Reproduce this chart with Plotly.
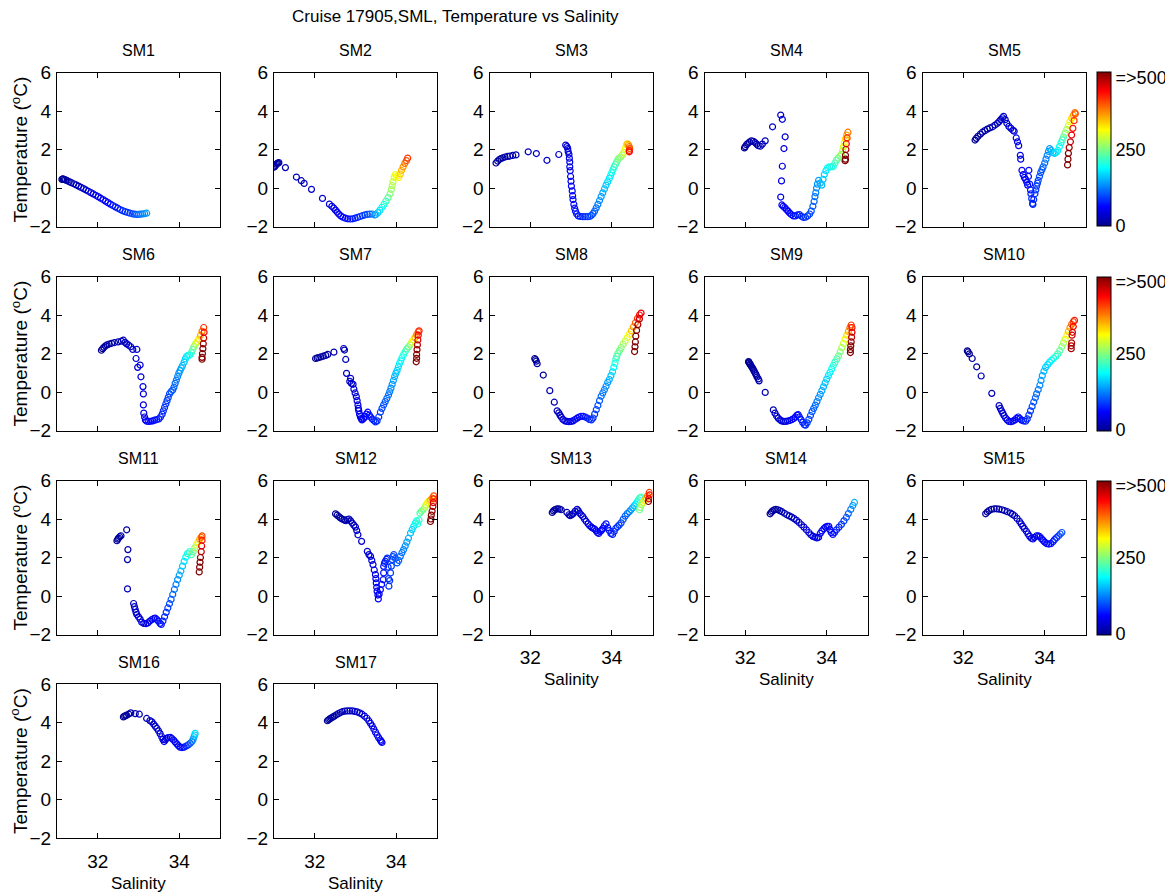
import plotly.graph_objects as go

# the page body adds an 8 px margin, so the figure is drawn 8 px in from the corner
OFF = 8
W, H = 1173 - OFF, 896 - OFF
FONT = "Liberation Sans, Arial, Helvetica, sans-serif"

TITLE = "Cruise 17905,SML, Temperature vs Salinity"
STATIONS = ["SM1", "SM2", "SM3", "SM4", "SM5", "SM6", "SM7", "SM8", "SM9",
            "SM10", "SM11", "SM12", "SM13", "SM14", "SM15", "SM16", "SM17"]
SAL_TICKS = [32, 34]
TEMP_TICKS = [-2, 0, 2, 4, 6]
DEPTH_TICKS = [2, 250, 482]
DEPTH_LABELS = ["0", "250", "=>500"]

# (salinity, temperature degC, depth m)
SM1 = [(31.12, 0.45, 2), (31.14, 0.47, 4), (31.16, 0.46, 6), (31.18, 0.44, 8), (31.21, 0.42, 10),
       (31.25, 0.38, 12), (31.3, 0.33, 15), (31.35, 0.28, 18), (31.41, 0.22, 21), (31.47, 0.16, 24),
       (31.53, 0.1, 27), (31.59, 0.03, 30), (31.65, -0.03, 33), (31.71, -0.1, 36), (31.77, -0.17, 39),
       (31.83, -0.24, 42), (31.89, -0.31, 45), (31.95, -0.38, 48), (32.01, -0.45, 51), (32.07, -0.53, 54),
       (32.13, -0.6, 57), (32.19, -0.68, 60), (32.25, -0.76, 63), (32.31, -0.84, 66), (32.37, -0.91, 69),
       (32.43, -0.98, 72), (32.49, -1.05, 75), (32.55, -1.12, 78), (32.61, -1.18, 81), (32.67, -1.23, 84),
       (32.73, -1.27, 88), (32.79, -1.31, 92), (32.85, -1.34, 97), (32.9, -1.36, 102), (32.95, -1.37, 108),
       (33.0, -1.37, 114), (33.05, -1.36, 120), (33.1, -1.35, 126), (33.15, -1.33, 132), (33.2, -1.31, 140)]
SM2 = [(31.0, 1.08, 2), (31.02, 1.12, 4), (31.04, 1.18, 6), (31.06, 1.24, 8), (31.08, 1.28, 10),
       (31.1, 1.3, 12), (31.12, 1.32, 14), (31.28, 1.06, 18), (31.55, 0.57, 22), (31.67, 0.38, 25),
       (31.74, 0.24, 28), (31.92, -0.07, 32), (32.19, -0.54, 36), (32.36, -0.84, 40), (32.42, -0.95, 43),
       (32.47, -1.05, 46), (32.51, -1.15, 49), (32.55, -1.25, 52), (32.59, -1.35, 55), (32.64, -1.45, 58),
       (32.69, -1.52, 61), (32.75, -1.57, 64), (32.81, -1.6, 67), (32.87, -1.61, 70), (32.93, -1.6, 73),
       (32.99, -1.57, 76), (33.05, -1.53, 80), (33.11, -1.48, 84), (33.17, -1.44, 88), (33.23, -1.4, 93),
       (33.29, -1.37, 98), (33.35, -1.36, 105), (33.41, -1.35, 115), (33.47, -1.4, 130), (33.5, -1.38, 145),
       (33.55, -1.28, 160), (33.6, -1.15, 175), (33.65, -1.0, 190), (33.7, -0.85, 205), (33.75, -0.68, 220),
       (33.8, -0.5, 235), (33.85, -0.3, 250), (33.88, -0.08, 262), (33.9, 0.12, 272), (33.92, 0.32, 282),
       (33.95, 0.55, 292), (33.98, 0.7, 300), (34.02, 0.62, 310), (34.06, 0.55, 320), (34.1, 0.72, 335),
       (34.13, 0.92, 350), (34.17, 1.1, 365), (34.21, 1.28, 380), (34.25, 1.42, 395), (34.28, 1.55, 410)]
SM3 = [(31.16, 1.3, 2), (31.2, 1.4, 4), (31.24, 1.48, 6), (31.28, 1.53, 8), (31.33, 1.57, 10),
       (31.38, 1.61, 12), (31.44, 1.64, 14), (31.5, 1.66, 16), (31.57, 1.69, 18), (31.65, 1.72, 20),
       (31.95, 1.88, 24), (32.15, 1.79, 27), (32.41, 1.44, 30), (32.7, 1.74, 33), (32.87, 2.23, 36),
       (32.9, 2.15, 38), (32.92, 2.05, 40), (32.93, 1.9, 42), (32.95, 1.75, 44), (32.96, 1.55, 46),
       (32.97, 1.35, 48), (32.97, 1.1, 50), (32.98, 0.9, 52), (32.99, 0.6, 54), (33.0, 0.35, 56),
       (33.01, 0.1, 58), (33.03, -0.15, 60), (33.04, -0.4, 62), (33.05, -0.6, 64), (33.07, -0.85, 66),
       (33.09, -1.05, 68), (33.11, -1.2, 70), (33.14, -1.35, 72), (33.18, -1.45, 74), (33.23, -1.48, 77),
       (33.29, -1.49, 80), (33.35, -1.49, 84), (33.41, -1.49, 88), (33.46, -1.48, 92), (33.5, -1.42, 97),
       (33.54, -1.33, 103), (33.58, -1.2, 110), (33.62, -1.03, 117), (33.66, -0.85, 124), (33.7, -0.65, 131),
       (33.74, -0.45, 138), (33.78, -0.25, 145), (33.82, -0.05, 152), (33.86, 0.15, 160), (33.9, 0.32, 168),
       (33.94, 0.5, 176), (33.97, 0.65, 184), (34.0, 0.8, 192), (34.03, 0.95, 200), (34.06, 1.1, 210),
       (34.09, 1.22, 220), (34.12, 1.35, 230), (34.15, 1.48, 240), (34.18, 1.55, 250), (34.22, 1.62, 260),
       (34.26, 1.72, 275), (34.3, 1.85, 290), (34.33, 2.05, 305), (34.36, 2.25, 320), (34.38, 2.3, 340),
       (34.41, 2.25, 360), (34.43, 2.15, 380), (34.44, 2.05, 400), (34.43, 1.95, 420), (34.43, 1.88, 440)]
SM4 = [(31.98, 2.08, 3), (32.0, 2.15, 5), (32.03, 2.25, 7), (32.06, 2.31, 9), (32.1, 2.38, 11),
       (32.15, 2.45, 13), (32.2, 2.42, 15), (32.24, 2.36, 17), (32.28, 2.28, 19), (32.32, 2.2, 21),
       (32.37, 2.17, 23), (32.42, 2.28, 25), (32.49, 2.45, 27), (32.67, 3.18, 30), (32.87, 3.79, 33),
       (32.91, 3.57, 36), (32.98, 2.66, 39), (32.95, 2.05, 42), (32.91, 1.13, 45), (32.89, 0.37, 48),
       (32.87, -0.47, 51), (32.9, -0.88, 54), (32.93, -0.95, 56), (32.97, -1.02, 58), (33.01, -1.12, 60),
       (33.05, -1.2, 62), (33.09, -1.3, 64), (33.13, -1.38, 66), (33.18, -1.45, 68), (33.23, -1.45, 70),
       (33.28, -1.4, 73), (33.33, -1.38, 76), (33.38, -1.47, 79), (33.43, -1.53, 82), (33.48, -1.52, 86),
       (33.53, -1.45, 90), (33.58, -1.35, 95), (33.62, -1.2, 100), (33.66, -0.95, 106), (33.69, -0.7, 112),
       (33.71, -0.45, 118), (33.73, -0.25, 124), (33.75, 0.0, 130), (33.77, 0.2, 136), (33.8, 0.4, 142),
       (33.84, 0.25, 148), (33.88, 0.15, 154), (33.91, 0.45, 160), (33.94, 0.7, 166), (33.98, 0.9, 174),
       (34.02, 1.05, 182), (34.07, 1.1, 190), (34.12, 1.1, 198), (34.16, 1.12, 206), (34.2, 1.3, 216),
       (34.24, 1.45, 226), (34.28, 1.55, 238), (34.32, 1.65, 250), (34.36, 1.75, 262), (34.39, 1.95, 276),
       (34.41, 2.15, 292), (34.43, 2.35, 310), (34.46, 2.55, 330), (34.49, 2.75, 355), (34.52, 2.9, 380),
       (34.5, 2.6, 410), (34.48, 2.3, 440), (34.47, 2.0, 470), (34.46, 1.7, 495), (34.46, 1.5, 510),
       (34.45, 1.42, 520)]
SM5 = [(32.29, 2.49, 3), (32.32, 2.58, 5), (32.36, 2.68, 7), (32.42, 2.8, 9), (32.47, 2.9, 11),
       (32.53, 2.98, 13), (32.59, 3.06, 15), (32.65, 3.12, 17), (32.72, 3.18, 19), (32.78, 3.27, 21),
       (32.84, 3.36, 23), (32.88, 3.45, 25), (32.92, 3.55, 27), (32.96, 3.65, 29), (32.99, 3.72, 31),
       (33.03, 3.55, 33), (33.07, 3.36, 35), (33.12, 3.2, 37), (33.17, 3.1, 39), (33.22, 3.0, 41),
       (33.25, 2.95, 43), (33.3, 2.6, 45), (33.33, 2.4, 47), (33.36, 2.2, 49), (33.4, 1.7, 51),
       (33.41, 1.5, 53), (33.44, 0.92, 55), (33.47, 0.7, 57), (33.5, 0.55, 59), (33.53, 0.45, 61),
       (33.56, 0.3, 63), (33.58, 0.15, 65), (33.6, 0.6, 67), (33.61, 0.92, 69), (33.63, 0.2, 71),
       (33.65, -0.1, 73), (33.66, -0.3, 75), (33.68, -0.55, 77), (33.7, -0.8, 79), (33.71, -0.85, 81),
       (33.73, -0.6, 83), (33.76, -0.3, 85), (33.78, -0.1, 87), (33.8, 0.1, 89), (33.82, 0.25, 92),
       (33.84, 0.4, 95), (33.87, 0.6, 98), (33.9, 0.8, 101), (33.93, 0.95, 105), (33.96, 1.1, 110),
       (34.0, 1.3, 116), (34.03, 1.5, 122), (34.06, 1.7, 128), (34.09, 1.9, 134), (34.12, 2.05, 140),
       (34.16, 1.95, 148), (34.2, 1.85, 156), (34.24, 1.8, 164), (34.28, 1.85, 172), (34.32, 1.95, 180),
       (34.36, 2.15, 190), (34.4, 2.35, 200), (34.43, 2.5, 215), (34.46, 2.65, 230), (34.5, 2.85, 250),
       (34.54, 3.05, 270), (34.58, 3.25, 290), (34.62, 3.45, 310), (34.66, 3.62, 330), (34.7, 3.78, 355),
       (34.74, 3.92, 380), (34.75, 3.85, 400), (34.72, 3.5, 415), (34.69, 3.1, 430), (34.66, 2.75, 445),
       (34.63, 2.4, 460), (34.6, 2.1, 480), (34.58, 1.8, 500), (34.57, 1.5, 510), (34.56, 1.2, 520)]
SM6 = [(32.09, 2.17, 3), (32.12, 2.25, 5), (32.15, 2.32, 7), (32.19, 2.4, 9), (32.23, 2.45, 11),
       (32.28, 2.49, 13), (32.34, 2.53, 15), (32.41, 2.57, 17), (32.5, 2.6, 19), (32.58, 2.64, 21),
       (32.63, 2.69, 23), (32.67, 2.58, 25), (32.71, 2.5, 27), (32.76, 2.43, 29), (32.81, 2.35, 31),
       (32.86, 2.21, 33), (32.96, 2.21, 35), (32.94, 1.74, 37), (32.98, 1.28, 39), (33.04, 1.4, 41),
       (33.06, 0.79, 43), (33.11, 0.28, 45), (33.12, -0.1, 47), (33.12, -0.67, 49), (33.13, -1.1, 51),
       (33.15, -1.3, 53), (33.17, -1.45, 55), (33.2, -1.52, 57), (33.25, -1.53, 59), (33.3, -1.52, 62),
       (33.35, -1.5, 65), (33.4, -1.46, 68), (33.45, -1.43, 71), (33.5, -1.4, 74), (33.54, -1.3, 77),
       (33.58, -1.15, 80), (33.61, -0.98, 83), (33.64, -0.8, 86), (33.67, -0.62, 89), (33.7, -0.45, 92),
       (33.73, -0.28, 95), (33.76, -0.1, 98), (33.8, 0.02, 102), (33.84, 0.1, 106), (33.87, 0.25, 110),
       (33.9, 0.45, 115), (33.93, 0.62, 120), (33.96, 0.8, 126), (33.99, 0.98, 132), (34.02, 1.12, 138),
       (34.05, 1.25, 145), (34.08, 1.38, 152), (34.12, 1.55, 160), (34.15, 1.72, 168), (34.18, 1.85, 176),
       (34.22, 1.9, 185), (34.26, 1.92, 195), (34.3, 2.05, 210), (34.33, 2.2, 230), (34.36, 2.35, 250),
       (34.4, 2.5, 275), (34.44, 2.62, 300), (34.48, 2.75, 325), (34.52, 2.95, 350), (34.56, 3.15, 380),
       (34.6, 3.35, 410), (34.61, 3.1, 430), (34.6, 2.8, 455), (34.59, 2.5, 480), (34.58, 2.25, 500),
       (34.57, 2.0, 510), (34.56, 1.8, 520), (34.56, 1.7, 530)]
SM7 = [(32.02, 1.74, 3), (32.06, 1.77, 5), (32.1, 1.79, 7), (32.15, 1.82, 9), (32.21, 1.86, 11),
       (32.27, 1.9, 13), (32.32, 1.95, 15), (32.47, 2.07, 18), (32.71, 2.26, 21), (32.73, 2.18, 23),
       (32.76, 1.69, 25), (32.78, 0.97, 27), (32.86, 0.55, 29), (32.88, 0.71, 31), (32.9, 0.45, 33),
       (32.94, 0.4, 35), (32.96, 0.15, 37), (32.99, -0.05, 39), (33.02, -0.24, 41), (33.04, -0.45, 43),
       (33.06, -0.67, 45), (33.07, -0.85, 47), (33.08, -0.97, 49), (33.1, -1.15, 51), (33.12, -1.28, 53),
       (33.14, -1.38, 55), (33.16, -1.45, 57), (33.2, -1.38, 59), (33.24, -1.28, 61), (33.27, -1.15, 63),
       (33.3, -1.05, 65), (33.34, -1.2, 68), (33.37, -1.3, 71), (33.41, -1.4, 74), (33.45, -1.48, 77),
       (33.49, -1.55, 80), (33.53, -1.5, 84), (33.57, -1.3, 88), (33.61, -1.05, 92), (33.65, -0.85, 97),
       (33.69, -0.67, 102), (33.73, -0.5, 107), (33.77, -0.33, 112), (33.81, -0.15, 118), (33.84, 0.02, 124),
       (33.87, 0.2, 130), (33.9, 0.4, 136), (33.93, 0.6, 142), (33.96, 0.8, 149), (33.99, 0.97, 156),
       (34.02, 1.12, 163), (34.05, 1.3, 170), (34.08, 1.48, 178), (34.11, 1.62, 186), (34.14, 1.78, 194),
       (34.18, 1.95, 203), (34.22, 2.1, 213), (34.26, 2.24, 225), (34.3, 2.34, 240), (34.34, 2.45, 260),
       (34.38, 2.58, 285), (34.42, 2.7, 315), (34.46, 2.82, 345), (34.5, 2.98, 375), (34.54, 3.12, 400),
       (34.56, 3.18, 420), (34.54, 2.95, 440), (34.53, 2.7, 455), (34.52, 2.45, 470), (34.51, 2.2, 485),
       (34.5, 1.95, 500), (34.5, 1.75, 510), (34.49, 1.57, 520)]
SM8 = [(32.11, 1.74, 3), (32.13, 1.68, 5), (32.15, 1.6, 7), (32.17, 1.47, 9), (32.32, 0.88, 13),
       (32.48, 0.07, 17), (32.59, -0.53, 21), (32.66, -0.98, 25), (32.7, -1.08, 28), (32.73, -1.2, 31),
       (32.76, -1.3, 34), (32.8, -1.42, 37), (32.85, -1.5, 40), (32.9, -1.53, 43), (32.95, -1.54, 46),
       (33.0, -1.53, 49), (33.05, -1.5, 52), (33.1, -1.43, 55), (33.15, -1.36, 58), (33.2, -1.3, 61),
       (33.25, -1.26, 64), (33.3, -1.27, 67), (33.35, -1.3, 70), (33.4, -1.35, 74), (33.45, -1.42, 78),
       (33.5, -1.45, 82), (33.54, -1.35, 86), (33.58, -1.15, 91), (33.62, -0.92, 96), (33.66, -0.7, 101),
       (33.7, -0.45, 107), (33.74, -0.22, 113), (33.78, -0.05, 119), (33.82, 0.12, 126), (33.86, 0.3, 133),
       (33.9, 0.5, 140), (33.94, 0.65, 148), (33.98, 0.85, 158), (34.02, 1.05, 170), (34.05, 1.28, 185),
       (34.08, 1.5, 200), (34.1, 1.7, 212), (34.12, 1.85, 222), (34.15, 2.0, 232), (34.19, 2.15, 242),
       (34.23, 2.3, 252), (34.28, 2.48, 264), (34.33, 2.65, 278), (34.38, 2.83, 295), (34.43, 3.0, 315),
       (34.48, 3.18, 340), (34.53, 3.38, 365), (34.58, 3.6, 390), (34.63, 3.82, 415), (34.68, 4.0, 435),
       (34.72, 4.1, 450), (34.68, 3.8, 465), (34.64, 3.5, 480), (34.61, 3.2, 495), (34.59, 2.9, 505),
       (34.58, 2.6, 515), (34.57, 2.35, 520), (34.56, 2.1, 530)]
SM9 = [(32.08, 1.58, 2), (32.09, 1.55, 3), (32.1, 1.5, 4), (32.12, 1.45, 5), (32.13, 1.4, 6),
       (32.15, 1.34, 7), (32.17, 1.27, 8), (32.19, 1.2, 9), (32.21, 1.12, 10), (32.23, 1.04, 11),
       (32.25, 0.96, 12), (32.27, 0.88, 13), (32.29, 0.78, 14), (32.32, 0.68, 15), (32.34, 0.58, 16),
       (32.49, -0.02, 20), (32.69, -0.93, 25), (32.73, -1.1, 28), (32.77, -1.25, 31), (32.81, -1.36, 34),
       (32.85, -1.44, 37), (32.89, -1.5, 40), (32.94, -1.53, 43), (32.99, -1.53, 46), (33.04, -1.51, 49),
       (33.09, -1.48, 52), (33.14, -1.44, 55), (33.19, -1.38, 58), (33.23, -1.3, 61), (33.27, -1.2, 64),
       (33.3, -1.18, 67), (33.33, -1.3, 70), (33.37, -1.43, 73), (33.41, -1.58, 76), (33.45, -1.7, 80),
       (33.48, -1.72, 84), (33.52, -1.6, 88), (33.56, -1.42, 93), (33.6, -1.22, 98), (33.64, -1.02, 104),
       (33.68, -0.85, 110), (33.72, -0.68, 116), (33.76, -0.5, 122), (33.8, -0.3, 129), (33.84, -0.12, 136),
       (33.88, 0.07, 143), (33.92, 0.27, 150), (33.96, 0.47, 158), (34.0, 0.67, 166), (34.04, 0.85, 174),
       (34.08, 1.02, 183), (34.12, 1.2, 192), (34.16, 1.38, 202), (34.2, 1.55, 213), (34.25, 1.72, 225),
       (34.29, 1.88, 238), (34.33, 2.08, 252), (34.37, 2.3, 268), (34.41, 2.52, 286), (34.45, 2.75, 306),
       (34.49, 2.95, 330), (34.53, 3.15, 355), (34.57, 3.35, 385), (34.6, 3.48, 410), (34.62, 3.35, 430),
       (34.62, 3.1, 450), (34.61, 2.85, 470), (34.6, 2.6, 490), (34.59, 2.4, 505), (34.58, 2.2, 515),
       (34.58, 2.05, 525)]
SM10 = [(32.1, 2.14, 3), (32.12, 2.08, 5), (32.15, 1.98, 7), (32.22, 1.74, 10), (32.33, 1.31, 14),
        (32.44, 0.83, 18), (32.7, -0.07, 23), (32.88, -0.71, 28), (32.91, -0.85, 31), (32.94, -0.98, 34),
        (32.97, -1.1, 37), (33.0, -1.22, 40), (33.04, -1.35, 43), (33.08, -1.45, 46), (33.12, -1.53, 49),
        (33.17, -1.54, 52), (33.22, -1.51, 55), (33.27, -1.45, 58), (33.31, -1.36, 61), (33.35, -1.3, 64),
        (33.39, -1.38, 67), (33.43, -1.46, 70), (33.48, -1.5, 74), (33.53, -1.52, 78), (33.57, -1.4, 82),
        (33.61, -1.2, 86), (33.65, -0.98, 91), (33.69, -0.75, 96), (33.73, -0.52, 102), (33.77, -0.3, 108),
        (33.8, -0.1, 114), (33.84, 0.12, 121), (33.88, 0.35, 128), (33.91, 0.6, 136), (33.94, 0.85, 144),
        (33.98, 1.08, 152), (34.02, 1.28, 160), (34.07, 1.42, 168), (34.12, 1.55, 176), (34.17, 1.66, 185),
        (34.22, 1.75, 195), (34.27, 1.85, 205), (34.32, 1.98, 218), (34.37, 2.15, 232), (34.42, 2.35, 250),
        (34.46, 2.55, 270), (34.5, 2.75, 292), (34.54, 2.95, 315), (34.58, 3.15, 340), (34.62, 3.35, 365),
        (34.66, 3.52, 390), (34.7, 3.65, 410), (34.73, 3.72, 425), (34.7, 3.4, 440), (34.68, 3.1, 455),
        (34.67, 2.95, 462), (34.66, 2.55, 470), (34.65, 2.4, 478), (34.65, 2.25, 485)]
SM11 = [(32.47, 2.87, 3), (32.49, 2.95, 5), (32.51, 3.01, 7), (32.54, 3.08, 9), (32.57, 3.13, 11),
        (32.71, 3.44, 14), (32.74, 2.41, 17), (32.73, 1.89, 20), (32.73, 0.37, 23), (32.88, -0.39, 26),
        (32.9, -0.55, 28), (32.92, -0.7, 30), (32.94, -0.85, 32), (32.96, -0.96, 34), (33.0, -1.08, 36),
        (33.04, -1.2, 38), (33.08, -1.36, 40), (33.13, -1.42, 43), (33.18, -1.44, 46), (33.23, -1.4, 49),
        (33.28, -1.3, 52), (33.33, -1.22, 55), (33.37, -1.18, 58), (33.41, -1.15, 61), (33.45, -1.22, 64),
        (33.49, -1.31, 67), (33.53, -1.42, 70), (33.56, -1.48, 73), (33.6, -1.3, 77), (33.64, -1.08, 81),
        (33.68, -0.85, 86), (33.72, -0.62, 91), (33.76, -0.4, 97), (33.8, -0.18, 103), (33.84, 0.08, 110),
        (33.88, 0.34, 117), (33.92, 0.6, 125), (33.96, 0.85, 133), (34.0, 1.08, 142), (34.04, 1.3, 151),
        (34.08, 1.55, 161), (34.12, 1.8, 172), (34.16, 2.02, 184), (34.2, 2.2, 197), (34.25, 2.3, 212),
        (34.3, 2.15, 228), (34.34, 2.3, 245), (34.38, 2.5, 265), (34.42, 2.65, 290), (34.46, 2.8, 320),
        (34.5, 2.95, 350), (34.54, 3.05, 380), (34.56, 3.12, 405), (34.56, 2.9, 425), (34.55, 2.6, 445),
        (34.54, 2.3, 465), (34.52, 2.0, 485), (34.51, 1.75, 500), (34.5, 1.5, 515), (34.49, 1.25, 525)]
SM12 = [(32.51, 4.27, 3), (32.55, 4.2, 5), (32.59, 4.13, 7), (32.63, 4.06, 9), (32.67, 4.0, 11),
        (32.72, 3.95, 13), (32.76, 3.91, 15), (32.8, 3.97, 17), (32.84, 4.0, 19), (32.88, 3.9, 21),
        (32.92, 3.79, 23), (32.96, 3.68, 25), (33.0, 3.58, 27), (33.03, 3.4, 29), (33.06, 3.18, 31),
        (33.15, 2.84, 34), (33.29, 2.32, 37), (33.33, 2.15, 39), (33.37, 2.06, 41), (33.4, 1.85, 43),
        (33.43, 1.63, 45), (33.46, 1.35, 47), (33.49, 1.11, 49), (33.5, 0.9, 51), (33.51, 0.68, 53),
        (33.52, 0.45, 55), (33.53, 0.25, 57), (33.55, 0.05, 59), (33.56, -0.15, 61), (33.58, 0.1, 63),
        (33.61, 0.33, 65), (33.64, 0.6, 67), (33.68, 0.85, 69), (33.69, 1.2, 71), (33.69, 1.54, 73),
        (33.71, 1.7, 75), (33.73, 1.8, 77), (33.76, 1.9, 79), (33.78, 1.97, 81), (33.8, 1.5, 83),
        (33.81, 0.9, 85), (33.82, 0.51, 87), (33.84, 0.8, 89), (33.86, 1.2, 91), (33.88, 1.55, 93),
        (33.9, 1.89, 95), (33.92, 2.05, 97), (33.94, 2.15, 99), (33.98, 1.95, 102), (34.02, 1.72, 105),
        (34.06, 1.85, 109), (34.1, 2.06, 114), (34.14, 2.25, 119), (34.18, 2.41, 125), (34.22, 2.6, 132),
        (34.26, 2.8, 140), (34.3, 3.0, 148), (34.35, 3.27, 157), (34.39, 3.45, 166), (34.43, 3.62, 175),
        (34.47, 3.79, 185), (34.5, 3.9, 195), (34.53, 3.75, 205), (34.56, 3.95, 215), (34.58, 4.31, 225),
        (34.62, 4.4, 238), (34.66, 4.48, 252), (34.7, 4.6, 268), (34.73, 4.72, 285), (34.76, 4.83, 305),
        (34.8, 4.92, 325), (34.84, 5.0, 350), (34.88, 5.08, 375), (34.92, 5.2, 400), (34.92, 5.05, 425),
        (34.91, 4.85, 450), (34.9, 4.65, 470), (34.88, 4.4, 490), (34.86, 4.2, 505), (34.85, 4.0, 515),
        (34.84, 3.87, 525)]
SM13 = [(32.54, 4.34, 3), (32.57, 4.42, 5), (32.6, 4.48, 7), (32.64, 4.52, 9), (32.68, 4.53, 11),
        (32.72, 4.52, 13), (32.76, 4.48, 15), (32.9, 4.34, 18), (32.95, 4.22, 20), (32.98, 4.17, 22),
        (33.02, 4.22, 24), (33.05, 4.27, 26), (33.1, 4.4, 28), (33.15, 4.5, 30), (33.18, 4.42, 32),
        (33.21, 4.31, 34), (33.25, 4.22, 36), (33.29, 4.13, 38), (33.33, 4.0, 40), (33.37, 3.88, 42),
        (33.42, 3.75, 44), (33.46, 3.65, 46), (33.5, 3.58, 48), (33.54, 3.52, 50), (33.58, 3.48, 52),
        (33.62, 3.38, 54), (33.65, 3.3, 56), (33.68, 3.25, 58), (33.72, 3.35, 60), (33.75, 3.42, 62),
        (33.78, 3.5, 64), (33.82, 3.65, 66), (33.86, 3.75, 68), (33.9, 3.55, 70), (33.94, 3.4, 72),
        (33.98, 3.25, 74), (34.02, 3.2, 76), (34.06, 3.35, 79), (34.1, 3.52, 82), (34.14, 3.6, 86),
        (34.18, 3.68, 90), (34.23, 3.8, 95), (34.28, 3.98, 101), (34.33, 4.15, 108), (34.38, 4.28, 116),
        (34.43, 4.38, 125), (34.47, 4.48, 135), (34.51, 4.58, 146), (34.55, 4.68, 158), (34.59, 4.78, 170),
        (34.63, 4.9, 183), (34.66, 5.0, 197), (34.69, 5.1, 212), (34.72, 5.14, 225), (34.68, 4.48, 240),
        (34.7, 4.6, 255), (34.73, 4.75, 270), (34.76, 4.85, 290), (34.8, 4.95, 315), (34.84, 5.08, 345),
        (34.88, 5.2, 380), (34.92, 5.38, 410), (34.93, 5.25, 430), (34.91, 5.05, 450), (34.9, 4.91, 510)]
SM14 = [(32.61, 4.27, 3), (32.64, 4.35, 5), (32.67, 4.42, 7), (32.71, 4.47, 9), (32.75, 4.5, 11),
        (32.8, 4.48, 13), (32.85, 4.43, 15), (32.9, 4.38, 17), (32.96, 4.3, 19), (33.02, 4.22, 21),
        (33.08, 4.16, 23), (33.14, 4.1, 25), (33.2, 4.02, 27), (33.26, 3.93, 29), (33.32, 3.82, 31),
        (33.38, 3.7, 33), (33.44, 3.58, 35), (33.5, 3.44, 37), (33.56, 3.3, 39), (33.61, 3.18, 41),
        (33.66, 3.1, 43), (33.71, 3.06, 45), (33.76, 3.02, 47), (33.8, 3.05, 49), (33.84, 3.25, 51),
        (33.88, 3.38, 53), (33.93, 3.5, 55), (33.97, 3.58, 57), (34.01, 3.62, 59), (34.05, 3.62, 61),
        (34.08, 3.45, 63), (34.11, 3.3, 65), (34.15, 3.2, 67), (34.19, 3.3, 70), (34.24, 3.44, 74),
        (34.3, 3.58, 79), (34.36, 3.72, 85), (34.42, 3.9, 92), (34.48, 4.08, 100), (34.53, 4.28, 110),
        (34.59, 4.5, 122), (34.64, 4.7, 135), (34.68, 4.86, 150)]
SM15 = [(32.55, 4.27, 3), (32.59, 4.36, 5), (32.63, 4.43, 7), (32.69, 4.5, 9), (32.76, 4.53, 11),
        (32.82, 4.53, 13), (32.88, 4.51, 15), (32.95, 4.48, 17), (33.01, 4.44, 19), (33.08, 4.38, 21),
        (33.16, 4.31, 23), (33.21, 4.24, 25), (33.26, 4.17, 27), (33.32, 4.03, 29), (33.38, 3.88, 31),
        (33.42, 3.75, 33), (33.46, 3.62, 35), (33.5, 3.5, 37), (33.55, 3.36, 39), (33.59, 3.22, 41),
        (33.63, 3.1, 43), (33.67, 3.0, 45), (33.71, 2.96, 47), (33.75, 3.05, 49), (33.8, 3.13, 51),
        (33.84, 3.12, 53), (33.88, 3.08, 55), (33.92, 2.98, 57), (33.96, 2.89, 59), (34.0, 2.8, 61),
        (34.05, 2.72, 63), (34.1, 2.7, 66), (34.15, 2.72, 69), (34.2, 2.82, 73), (34.24, 2.93, 77),
        (34.29, 3.03, 82), (34.34, 3.13, 88), (34.38, 3.22, 95), (34.42, 3.3, 103)]
SM16 = [(32.63, 4.29, 3), (32.66, 4.33, 5), (32.69, 4.36, 7), (32.71, 4.38, 9), (32.76, 4.44, 11),
        (32.81, 4.5, 13), (32.92, 4.46, 16), (33.02, 4.43, 19), (33.2, 4.21, 22), (33.28, 4.1, 24),
        (33.33, 4.03, 26), (33.37, 3.92, 28), (33.41, 3.81, 30), (33.45, 3.7, 32), (33.49, 3.57, 34),
        (33.53, 3.42, 36), (33.57, 3.26, 38), (33.6, 3.12, 40), (33.63, 3.01, 42), (33.66, 3.1, 44),
        (33.69, 3.18, 46), (33.73, 3.22, 48), (33.78, 3.23, 50), (33.82, 3.17, 52), (33.86, 3.09, 54),
        (33.9, 2.99, 56), (33.94, 2.89, 58), (33.98, 2.8, 60), (34.02, 2.72, 62), (34.07, 2.7, 65),
        (34.12, 2.72, 70), (34.17, 2.78, 78), (34.22, 2.84, 88), (34.27, 2.92, 100), (34.31, 3.01, 115),
        (34.34, 3.12, 130), (34.36, 3.26, 145), (34.38, 3.35, 160), (34.39, 3.44, 172)]
SM17 = [(32.31, 4.09, 3), (32.34, 4.14, 5), (32.37, 4.19, 7), (32.4, 4.23, 9), (32.44, 4.28, 11),
        (32.48, 4.33, 13), (32.53, 4.4, 15), (32.58, 4.46, 17), (32.63, 4.52, 19), (32.68, 4.56, 21),
        (32.74, 4.59, 23), (32.8, 4.6, 25), (32.86, 4.6, 27), (32.92, 4.6, 29), (32.98, 4.58, 31),
        (33.04, 4.55, 33), (33.1, 4.5, 35), (33.16, 4.43, 37), (33.22, 4.33, 39), (33.28, 4.22, 41),
        (33.33, 4.08, 43), (33.37, 3.95, 45), (33.41, 3.82, 47), (33.45, 3.66, 49), (33.49, 3.5, 51),
        (33.53, 3.35, 53), (33.57, 3.2, 55), (33.61, 3.09, 57), (33.63, 3.02, 59), (33.65, 2.96, 61)]

PROFILES = [SM1, SM2, SM3, SM4, SM5, SM6, SM7, SM8, SM9, SM10,
            SM11, SM12, SM13, SM14, SM15, SM16, SM17]

JET = [[0.0, "rgb(0,0,143)"], [0.125, "rgb(0,0,255)"], [0.375, "rgb(0,255,255)"],
       [0.625, "rgb(255,255,0)"], [0.875, "rgb(255,0,0)"], [1.0, "rgb(128,0,0)"]]

# layout geometry in page pixels (shifted by OFF into figure pixels below)
COL_LEFT = [57, 274, 489.5, 704.5, 922.5]
PW = 163
ROW_TOP = [72.5, 276.5, 480.5, 684]
PH = 154
CB_LEFT = 1097
CB_W = 14


def px(xp):
    return (xp - OFF) / W


def py(yp):
    return 1 - (yp - OFF) / H


fig = go.Figure()
annotations = []
layout = {}

for i, (name, prof) in enumerate(zip(STATIONS, PROFILES)):
    r, c = divmod(i, 5)
    k = "" if i == 0 else str(i + 1)
    cax = "coloraxis" if r == 0 else ("coloraxis2" if r == 1 else "coloraxis3")
    sal = [p[0] for p in prof]
    tmp = [p[1] for p in prof]
    dep = [p[2] for p in prof]
    fig.add_trace(go.Scatter(
        x=sal, y=tmp, mode="markers", xaxis="x" + k, yaxis="y" + k,
        marker=dict(symbol="circle-open", size=6, color=dep, coloraxis=cax,
                    line=dict(width=1.2)),
        showlegend=False, hoverinfo="skip"))
    x0 = px(COL_LEFT[c])
    x1 = px(COL_LEFT[c] + PW)
    y1 = py(ROW_TOP[r])
    y0 = py(ROW_TOP[r] + PH)
    show_x = i >= 12
    layout["xaxis" + k] = dict(
        domain=[x0, x1], anchor="y" + k, range=[31, 35], tickvals=SAL_TICKS,
        showticklabels=show_x, ticks="inside", ticklen=5, tickcolor="black",
        showline=True, linecolor="black", linewidth=1, mirror="ticks",
        showgrid=False, zeroline=False, ticklabelstandoff=6,
        tickfont=dict(family=FONT, size=19, color="black"))
    layout["yaxis" + k] = dict(
        domain=[y0, y1], anchor="x" + k, range=[-2, 6], tickvals=TEMP_TICKS,
        ticks="inside", ticklen=5, tickcolor="black",
        showline=True, linecolor="black", linewidth=1, mirror="ticks",
        showgrid=False, zeroline=False, ticklabelstandoff=1,
        tickfont=dict(family=FONT, size=19, color="black"))
    # panel title
    annotations.append(dict(
        text=name, xref="paper", yref="paper", x=(x0 + x1) / 2,
        y=py(ROW_TOP[r] - 22), xanchor="center", yanchor="middle",
        showarrow=False, font=dict(family=FONT, size=16, color="black")))
    if c == 0:
        annotations.append(dict(
            text="Temperature (<sup>o</sup>C)", xref="paper", yref="paper",
            x=px(19), y=(y0 + y1) / 2, xanchor="center", yanchor="middle",
            textangle=-90, showarrow=False,
            font=dict(family=FONT, size=19, color="black")))
    if show_x:
        annotations.append(dict(
            text="Salinity", xref="paper", yref="paper", x=(x0 + x1) / 2,
            y=py(ROW_TOP[r] + PH + 45), xanchor="center", yanchor="middle",
            showarrow=False, font=dict(family=FONT, size=17, color="black")))

annotations.append(dict(
    text=TITLE, xref="paper", yref="paper", x=px(455.5), y=py(17),
    xanchor="center", yanchor="middle", showarrow=False,
    font=dict(family=FONT, size=17, color="black")))


def cbar(row):
    return dict(
        colorscale=JET, cmin=0, cmax=500,
        colorbar=dict(
            x=px(CB_LEFT), xanchor="left", xpad=0, ypad=0,
            y=py(ROW_TOP[row]), yanchor="top",
            len=PH / H, lenmode="fraction",
            thickness=CB_W, thicknessmode="pixels",
            outlinecolor="black", outlinewidth=1,
            tickvals=DEPTH_TICKS, ticktext=DEPTH_LABELS, ticks="",
            tickfont=dict(family=FONT, size=18, color="black")))


layout["coloraxis"] = cbar(0)
layout["coloraxis2"] = cbar(1)
layout["coloraxis3"] = cbar(2)

fig.update_layout(
    width=W, height=H, margin=dict(l=0, r=0, t=0, b=0, autoexpand=False),
    paper_bgcolor="white", plot_bgcolor="white",
    annotations=annotations, **layout)

fig.write_html("out.html")
